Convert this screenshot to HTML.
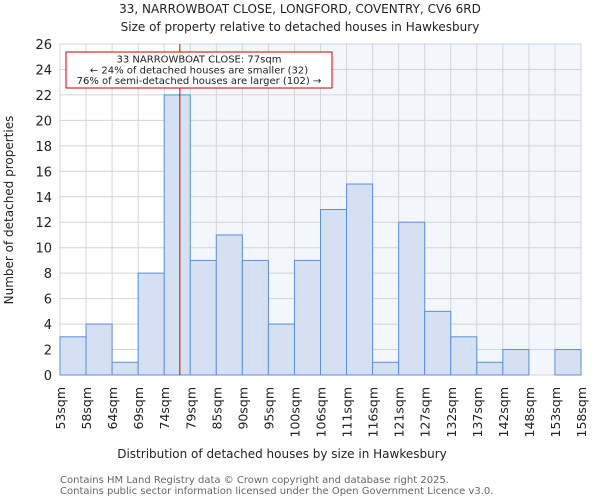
<!DOCTYPE html>
<html><head><meta charset="utf-8"><style>
body{margin:0;background:#fff;font-family:"DejaVu Sans","Liberation Sans",sans-serif}
svg text{font-family:"DejaVu Sans","Liberation Sans",sans-serif}
</style></head><body>
<svg id="c" width="600" height="500">
<text x="300" y="13" font-size="12" text-anchor="middle" fill="#222">33, NARROWBOAT CLOSE, LONGFORD, COVENTRY, CV6 6RD</text>
<text x="300" y="31" font-size="12" text-anchor="middle" fill="#222">Size of property relative to detached houses in Hawkesbury</text>
<g id="plot"></g>
<text x="282" y="458" font-size="12" text-anchor="middle" fill="#222">Distribution of detached houses by size in Hawkesbury</text>
<text transform="translate(13,210) rotate(-90)" font-size="12" text-anchor="middle" fill="#222">Number of detached properties</text>
<text x="60" y="483" font-size="10" fill="#666">Contains HM Land Registry data © Crown copyright and database right 2025.</text>
<text x="60" y="494" font-size="10" fill="#666">Contains public sector information licensed under the Open Government Licence v3.0.</text>
</svg>
<script>
const categories=["53sqm","58sqm","64sqm","69sqm","74sqm","79sqm","85sqm","90sqm","95sqm","100sqm","106sqm","111sqm","116sqm","121sqm","127sqm","132sqm","137sqm","142sqm","148sqm","153sqm","158sqm"];
const counts=[3,4,1,8,22,9,11,9,4,9,13,15,1,12,5,3,1,2,0,2];
const yTicks=[0,2,4,6,8,10,12,14,16,18,20,22,24,26];
const markerBin=4.6;
const L=60,R=581,T=44,B=375,YMAX=26;
const n=counts.length,bw=(R-L)/n;
const xs=i=>L+i*bw, ys=v=>B-(B-T)*v/YMAX;
const NS="http://www.w3.org/2000/svg",g=document.getElementById('plot');
function mk(t,a){const e=document.createElementNS(NS,t);for(const k in a)e.setAttribute(k,a[k]);g.appendChild(e);return e;}
const mx=xs(markerBin);
let e=mk('rect',{x:mx,y:T,width:R-mx,height:B-T,fill:'#f3f6fc'});


for(let i=0;i<=n;i++){e=mk('line',{x1:xs(i),x2:xs(i),y1:T,y2:B,stroke:'#d4d4d4','stroke-width':1});

}
yTicks.forEach(v=>{e=mk('line',{x1:L,x2:R,y1:ys(v),y2:ys(v),stroke:'#d4d4d4','stroke-width':1});


const t=mk('text',{x:L-8,y:ys(v)+5,'font-size':13,'text-anchor':'end',fill:'#222'});t.textContent=v;

});
counts.forEach((v,i)=>{if(v<=0)return;e=mk('rect',{x:xs(i),y:ys(v),width:bw,height:B-ys(v),fill:'#d6e0f3',stroke:'#5b8fd6','stroke-width':1});

});
categories.forEach((c,i)=>{const x=xs(i);const t=mk('text',{transform:`translate(${x+5},387) rotate(-90)`,'font-size':12.5,'text-anchor':'end',fill:'#222'});t.textContent=c;

});
e=mk('line',{x1:mx,x2:mx,y1:T,y2:B,stroke:'#d00','stroke-width':1});


e=mk('rect',{x:66,y:52,width:266,height:36,fill:'#fff',stroke:'#c00','stroke-width':1});


["33 NARROWBOAT CLOSE: 77sqm","← 24% of detached houses are smaller (32)","76% of semi-detached houses are larger (102) →"].forEach((s,k)=>{const t=mk('text',{x:199,y:62.5+k*10.8,'font-size':10,'text-anchor':'middle',fill:'#222'});t.textContent=s;

});
</script>
</body></html>
